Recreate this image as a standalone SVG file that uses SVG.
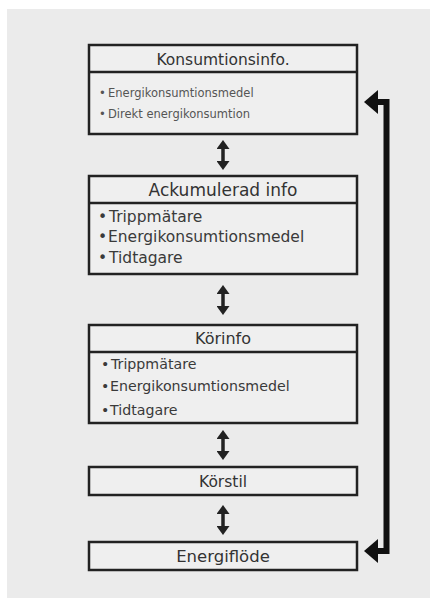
<svg xmlns="http://www.w3.org/2000/svg" width="430" height="598" viewBox="0 0 430 598">
<style>
.box{fill:#efefef;stroke:#222;stroke-width:2.5}
.div{stroke:#222;stroke-width:2.5}
.hd{font-family:"DejaVu Sans","Liberation Sans",sans-serif;fill:#333;text-anchor:middle}
.bl{font-family:"DejaVu Sans","Liberation Sans",sans-serif;fill:#3a3a3a}
.sm{font-family:"DejaVu Sans","Liberation Sans",sans-serif;fill:#555;font-size:11.5px}
.dbl{stroke:#222;stroke-width:3.5;marker-start:url(#h);marker-end:url(#h);fill:none}
.big{stroke:#111;stroke-width:6;fill:none;stroke-linejoin:miter;marker-start:url(#H);marker-end:url(#H)}
</style>
<defs>
<marker id="h" viewBox="0 0 9 13" refX="4" refY="6.5" markerWidth="9" markerHeight="13" markerUnits="userSpaceOnUse" orient="auto-start-reverse">
<path d="M0,0 L9,6.5 L0,13 z" fill="#222"/>
</marker>
<marker id="H" viewBox="0 0 14 24" refX="3" refY="12" markerWidth="14" markerHeight="24" markerUnits="userSpaceOnUse" orient="auto-start-reverse">
<path d="M0,0 L14,12 L0,24 z" fill="#111"/>
</marker>
</defs>
<rect x="0" y="0" width="430" height="598" fill="#ffffff"/>
<rect x="7" y="9" width="423" height="589" fill="#ebebeb"/>

<g id="konsumtionsinfo">
<rect class="box" x="89" y="45" width="268" height="89"/>
<line class="div" x1="89" y1="72" x2="357" y2="72"/>
<text class="hd" x="223" y="65" font-size="15.5">Konsumtionsinfo.</text>
<text class="sm" y="97"><tspan x="99">•</tspan><tspan x="108">Energikonsumtionsmedel</tspan></text>
<text class="sm" y="118"><tspan x="99">•</tspan><tspan x="108">Direkt energikonsumtion</tspan></text>
</g>

<g id="ackumulerad">
<rect class="box" x="89" y="176" width="268" height="98"/>
<line class="div" x1="89" y1="203" x2="357" y2="203"/>
<text class="hd" x="223" y="196" font-size="17">Ackumulerad info</text>
<text class="bl" y="222" font-size="15.5"><tspan x="98">•</tspan><tspan x="109">Trippmätare</tspan></text>
<text class="bl" y="242" font-size="15.5"><tspan x="98">•</tspan><tspan x="108">Energikonsumtionsmedel</tspan></text>
<text class="bl" y="263" font-size="15.5"><tspan x="98">•</tspan><tspan x="109">Tidtagare</tspan></text>
</g>

<g id="korinfo">
<rect class="box" x="89" y="325" width="268" height="98"/>
<line class="div" x1="89" y1="352" x2="357" y2="352"/>
<text class="hd" x="223" y="344" font-size="16">Körinfo</text>
<text class="bl" y="369" font-size="14.2"><tspan x="101">•</tspan><tspan x="111">Trippmätare</tspan></text>
<text class="bl" y="391" font-size="14.2"><tspan x="101">•</tspan><tspan x="110">Energikonsumtionsmedel</tspan></text>
<text class="bl" y="415" font-size="14.2"><tspan x="101">•</tspan><tspan x="110">Tidtagare</tspan></text>
</g>

<g id="korstil">
<rect class="box" x="89" y="467" width="268" height="28"/>
<text class="hd" x="223" y="487" font-size="15.5">Körstil</text>
</g>

<g id="energiflode">
<rect class="box" x="89" y="542" width="268" height="28"/>
<text class="hd" x="223" y="562" font-size="16.5">Energiflöde</text>
</g>

<g id="connectors">
<line class="dbl" x1="223" y1="145" x2="223" y2="165"/>
<line class="dbl" x1="223" y1="290" x2="223" y2="310"/>
<line class="dbl" x1="223" y1="435" x2="223" y2="455"/>
<line class="dbl" x1="223" y1="510" x2="223" y2="530"/>
<path class="big" d="M375,102 H386.5 V551 H375"/>
</g>
</svg>
